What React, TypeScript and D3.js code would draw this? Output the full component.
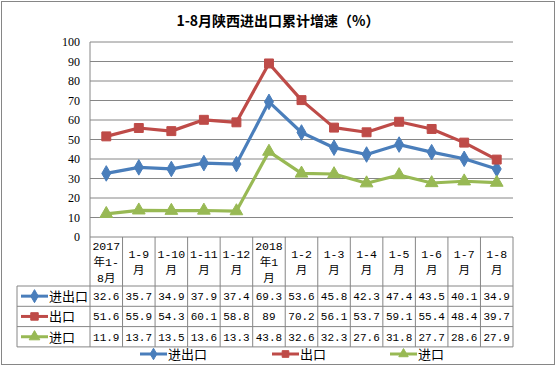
import React from "react";
import { scaleBand, scaleLinear, line, symbol, symbolDiamond, symbolSquare, symbolTriangle } from "d3";

// categories (header rows of the data table)
const categories = [
  ["2017", "年1-", "8月"],
  ["1-9", "月"],
  ["1-10", "月"],
  ["1-11", "月"],
  ["1-12", "月"],
  ["2018", "年1", "月"],
  ["1-2", "月"],
  ["1-3", "月"],
  ["1-4", "月"],
  ["1-5", "月"],
  ["1-6", "月"],
  ["1-7", "月"],
  ["1-8", "月"],
];

const total = [32.6, 35.7, 34.9, 37.9, 37.4, 69.3, 53.6, 45.8, 42.3, 47.4, 43.5, 40.1, 34.9];
const exportsData = [51.6, 55.9, 54.3, 60.1, 58.8, 89, 70.2, 56.1, 53.7, 59.1, 55.4, 48.4, 39.7];
const importsData = [11.9, 13.7, 13.5, 13.6, 13.3, 43.8, 32.6, 32.3, 27.6, 31.8, 27.7, 28.6, 27.9];

const yTicks = [0, 10, 20, 30, 40, 50, 60, 70, 80, 90, 100];

const series = [
  { name: "进出口", values: total, color: "#4A7EBB", shape: symbolDiamond, size: 70 },
  { name: "出口", values: exportsData, color: "#BE4B48", shape: symbolSquare, size: 80 },
  { name: "进口", values: importsData, color: "#98B954", shape: symbolTriangle, size: 70 },
];

const W = 557;
const H = 367;
const left = 90;
const right = 513;
const top = 42;
const bottom = 237;
const rowH = 20.3;
const headerBottom = 286;
const tableLeft = 17;

export default function App() {
  const idx = categories.map((_, i) => String(i));
  const x = scaleBand().domain(idx).range([left, right]);
  const y = scaleLinear().domain([0, 100]).range([bottom, top]);
  const cx = (i: number) => (x(String(i)) as number) + x.bandwidth() / 2;
  const grid = "#868686";
  const numFont = "'Liberation Mono', 'Noto Sans CJK SC', monospace";
  const cjk = "'Noto Sans CJK SC', sans-serif";

  const lineGen = line<number>()
    .x((_, i) => cx(i))
    .y((d) => y(d));

  const legendItems = [
    { s: series[0], x: 140 },
    { s: series[1], x: 272 },
    { s: series[2], x: 390 },
  ];

  const marker = (s: typeof series[0], mx: number, my: number, scale = 1) => (
    <path
      d={symbol().type(s.shape).size(s.size * scale)() as string}
      transform={`translate(${mx},${my})`}
      fill={s.color}
      stroke={s.color}
      strokeWidth={1}
    />
  );

  return (
    <div style={{ position: "fixed", left: 0, top: 0 }}>
      <svg width={W} height={H} style={{ display: "block", background: "#fff" }}>
        <rect x={1.5} y={1.5} width={553} height={363} fill="#fff" stroke={grid} strokeWidth={1} />
        <text x={278} y={26} textAnchor="middle" fontFamily={cjk} fontWeight="bold" fontSize={14}>
          1-8月陕西进出口累计增速（%）
        </text>

        {/* grid + y axis */}
        {yTicks.map((t) => (
          <g key={t}>
            {t > 0 && <line x1={left} x2={right} y1={y(t)} y2={y(t)} stroke={grid} strokeWidth={1} />}
            <text x={80} y={y(t) + 4} textAnchor="end" fontFamily="'Liberation Serif', serif" fontSize={12}>
              {t}
            </text>
          </g>
        ))}
        <line x1={left} x2={left} y1={top} y2={bottom} stroke={grid} />
        <line x1={left} x2={right} y1={bottom} y2={bottom} stroke={grid} />

        {/* table */}
        {idx.map((k) => (
          <line key={k} x1={(x(k) as number) + x.bandwidth()} x2={(x(k) as number) + x.bandwidth()} y1={bottom} y2={headerBottom + rowH * 3} stroke={grid} />
        ))}
        <line x1={left} x2={left} y1={bottom} y2={headerBottom + rowH * 3} stroke={grid} />
        <line x1={tableLeft} x2={tableLeft} y1={headerBottom} y2={headerBottom + rowH * 3} stroke={grid} />
        {[0, 1, 2, 3].map((r) => (
          <line key={r} x1={tableLeft} x2={right} y1={headerBottom + rowH * r} y2={headerBottom + rowH * r} stroke={grid} />
        ))}
        {categories.map((c, i) => {
          const startY = c.length === 3 ? 250 : 258;
          return (
            <text key={i} textAnchor="middle" fontFamily={numFont} fontSize={11.5}>
              {c.map((t, j) => (
                <tspan key={j} x={cx(i)} y={startY + j * 16}>
                  {t}
                </tspan>
              ))}
            </text>
          );
        })}
        {series.map((s, r) => {
          const ry = headerBottom + rowH * r + rowH / 2;
          return (
            <g key={s.name}>
              <line x1={21} x2={48} y1={ry} y2={ry} stroke={s.color} strokeWidth={3} />
              {marker(s, 34.5, ry, 0.7)}
              <text x={49} y={ry + 5} fontFamily={cjk} fontSize={13}>
                {s.name}
              </text>
              {s.values.map((v, i) => (
                <text key={i} x={cx(i)} y={ry + 4} textAnchor="middle" fontFamily={numFont} fontSize={11}>
                  {String(v)}
                </text>
              ))}
            </g>
          );
        })}

        {/* lines */}
        {series.map((s) => (
          <g key={s.name}>
            <path d={lineGen(s.values) as string} fill="none" stroke={s.color} strokeWidth={3.2} strokeLinejoin="round" />
            {s.values.map((v, i) => (
              <g key={i}>{marker(s, cx(i), y(v))}</g>
            ))}
          </g>
        ))}

        {/* legend */}
        {legendItems.map(({ s, x: lx }) => (
          <g key={s.name}>
            <line x1={lx} x2={lx + 27} y1={354} y2={354} stroke={s.color} strokeWidth={3} />
            {marker(s, lx + 13.5, 354, 0.55)}
            <text x={lx + 28} y={359} fontFamily={cjk} fontSize={13}>
              {s.name}
            </text>
          </g>
        ))}
      </svg>
    </div>
  );
}
